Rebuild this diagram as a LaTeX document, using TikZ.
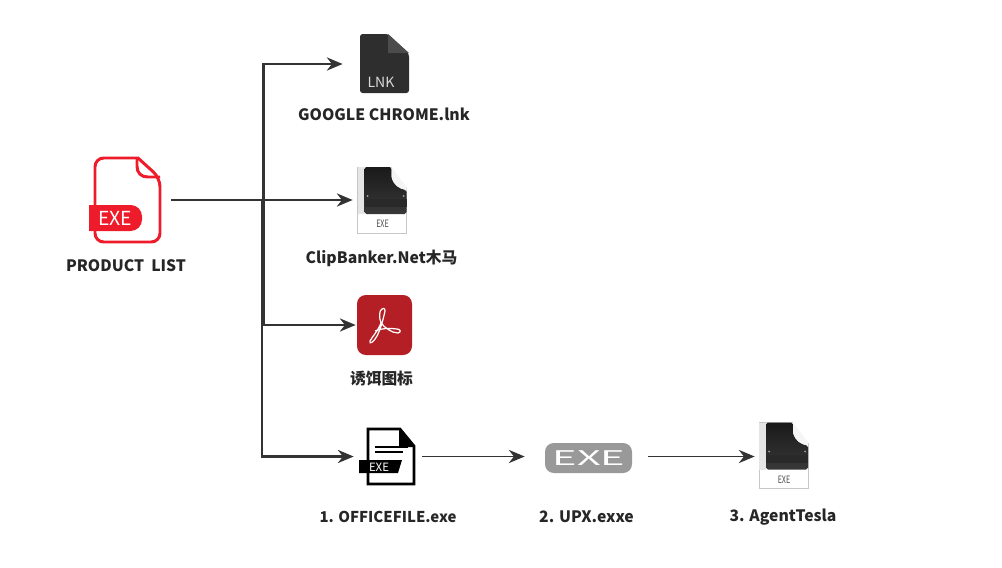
\documentclass[tikz,border=0pt]{standalone}
\usepackage{fontspec}
\setmainfont{Noto Sans CJK SC}
\usetikzlibrary{arrows.meta}
\def\px{0.02cm}
\definecolor{flowgray}{HTML}{333333}
\definecolor{exered}{HTML}{EE1C2B}
\definecolor{lnkdark}{HTML}{2E2E2E}
\definecolor{pdfred}{HTML}{B31F25}
\tikzset{
slot/.style={inner sep=0pt, minimum height=10*\px},
flow/.style={draw=flowgray, line width=1.2pt, -{Stealth[length=9pt, width=7.5pt]}},
thinflow/.style={draw=flowgray, line width=1pt, -{Stealth[length=9pt, width=7.5pt]}},
caption/.style={inner sep=0pt, text=black!85, font=\fontsize{8.95}{10}\selectfont\bfseries},
exepage/.pic={
\fill[white] (0,0) -- (34,0) -- (49,20) -- (49,66) -- (0,66) -- cycle;
\draw[black!22, line width=0.4pt] (34,0) -- (0,0) -- (0,66) -- (49,66) -- (49,20);
\fill[black!10] (0,0) rectangle (7,47);
\shade[top color=black!90, bottom color=black!78, rounded corners=1pt] (7,0) -- (34,0) -- (34,10) .. controls (36,18) and (42,22) .. (49,23) -- (49,47) -- (7,47) -- cycle;
\fill[black!84] (7,32) rectangle (49,40);
\fill[black!4] (34,0) -- (49,20) -- (49,23) .. controls (42,22) and (36,18) .. (34,10) -- cycle;
\fill[black!35] (10,29) circle (1);
\fill[black!35] (46,29) circle (1);
\node[inner sep=0pt, text=black!70, xscale=0.7, font=\fontsize{5.8}{6}\selectfont] at (25,57) {EXE};
}
}
\begin{document}
\begin{tikzpicture}[x=\px, y=-\px]
\useasboundingbox (0,0) rectangle (1002,568);
% slots for the icons
\node[slot, minimum width=90*\px] (product) at (126,200) {};
\node[slot, minimum width=66*\px] (lnk) at (376,64) {};
\node[slot, minimum width=55*\px] (clip) at (380.5,200) {};
\node[slot, minimum width=56*\px] (pdf) at (384,325) {};
\node[slot, minimum width=68*\px] (office) at (388,456.5) {};
\node[slot, minimum width=123*\px] (upx) at (586.5,456.5) {};
\node[slot, minimum width=56*\px] (tesla) at (783,456.5) {};
\coordinate (busa) at (263.5,200);
\coordinate (busb) at (262,200);
% connectors
\draw[flow] (product.east) -- (busa) |- (lnk.west);
\draw[flow] (product.east) -- (clip.west);
\draw[flow] (product.east) -- (busa) |- (pdf.west);
\draw[flow] (product.east) -- (busb) |- (office.west);
\draw[thinflow] (office.east) -- (upx.west);
\draw[thinflow] (upx.east) -- (tesla.west);
% red file
\draw[exered, line width=1.7pt, rounded corners=5pt] (120,158) -- (95,158) -- (95,242) -- (160,242) -- (160,178) [sharp corners] -- (138,158) -- (120,158);
\draw[exered, line width=1.7pt] (137,158) -- (137,166) .. controls (137,173) and (141,177) .. (148,177) -- (160,177);
\fill[exered, rounded corners=6.5pt] (89,205) [sharp corners] -- (120,205) [rounded corners=6.5pt] -- (142,205) -- (142,231) [sharp corners] -- (120,231) -- (89,231) -- cycle;
\node[inner sep=0pt, text=white, font=\fontsize{11}{12}\selectfont] at (115,218) {EXE};
% lnk file
\fill[lnkdark, rounded corners=1.5pt] (360,34) -- (388,34) -- (409,54) -- (409,93) -- (360,93) -- cycle;
\fill[black!70] (388,34) -- (409,53) -- (388,53) -- cycle;
\node[inner sep=0pt, text=black!15, font=\fontsize{8}{10}\selectfont] at (381,82) {LNK};
% disk icons
\pic at (357.5,167) {exepage};
\pic at (759,422.5) {exepage};
% pdf
\fill[pdfred, rounded corners=5pt] (357,295) rectangle (412,355);
\draw[white, line width=0.7pt] (382,309) .. controls (379,310) and (379,318) .. (381,323) .. controls (378,331) and (372,337) .. (370,341) .. controls (369,345) and (374,342) .. (377,336) .. controls (381,328) and (383,320) .. (385,311) .. controls (385,308) and (383,308) .. (382,309);
\draw[white, line width=0.7pt] (381,323) .. controls (385,328) and (392,333) .. (398,333) .. controls (402,332) and (400,329) .. (397,329) .. controls (390,328) and (382,328) .. (375,331);
% office exe
\fill[white] (367,429) rectangle (414,484);
\draw[black, line width=1.5pt, line join=miter] (368,460) -- (368,429) -- (400,429) -- (414,446) -- (414,484) -- (368,484) -- (368,473);
\fill[black] (399,428) -- (415,447) -- (399,447) -- cycle;
\draw[black, line width=0.8pt] (375,447) -- (408,447);
\draw[black, line width=0.8pt] (375,452) -- (403,452);
\fill[black] (359,460) -- (402,460) -- (398,473) -- (359,473) -- cycle;
\node[inner sep=0pt, text=white, font=\fontsize{6.5}{8}\selectfont] at (379,467) {EXE};
% gray exe
\fill[black!40, rounded corners=5pt] (545,443) rectangle (632,473);
\node[inner sep=0pt, text=white, xscale=2.05, font=\fontsize{11.5}{12}\selectfont] at (589,458) {EXE};
% labels
\node[caption] (productlabel) at (126,266) {PRODUCT\ \ LIST};
\node[caption] (lnklabel) at (384,114) {GOOGLE CHROME.lnk};
\node[caption] (cliplabel) at (381.5,258) {ClipBanker.Net木马};
\node[caption] (pdflabel) at (381.5,379) {诱饵图标};
\node[caption, font=\fontsize{8.5}{10}\selectfont\bfseries] (officelabel) at (388,517) {1. OFFICEFILE.exe};
\node[caption] (upxlabel) at (586.5,517) {2. UPX.exxe};
\node[caption] (teslalabel) at (783,517) {3. AgentTesla};
\end{tikzpicture}
\end{document}
